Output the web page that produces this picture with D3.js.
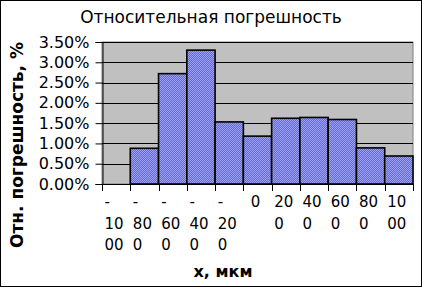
<!DOCTYPE html>
<html>
<head>
<meta charset="utf-8">
<script src="https://cdn.jsdelivr.net/npm/d3@7"></script>
<style>
  body { margin: 0; background: #fff; }
  svg { display: block; font-family: "DejaVu Sans", sans-serif; }
</style>
</head>
<body>
<svg id="chart" width="422" height="287"></svg>
<script>
// x positions (мкм) and relative error (fraction)
var categories = ["-1000", "-800", "-600", "-400", "-200", "0", "200", "400", "600", "800", "1000"];
var errors = [null, 0.0088, 0.0272, 0.0330, 0.0153, 0.0118, 0.0162, 0.0164, 0.0159, 0.0089, 0.0069];
var yTicks = [0, 0.005, 0.01, 0.015, 0.02, 0.025, 0.03, 0.035];

var svg = d3.select("#chart"),
    W = 422, H = 287,
    plot = {left: 102, right: 413, top: 42, bottom: 184};

svg.append("rect")
    .attr("x", 0.5).attr("y", 0.5)
    .attr("width", W - 1).attr("height", H - 1)
    .attr("fill", "#fff").attr("stroke", "#000");

// checkerboard blue fill like the excel pattern
var pat = svg.append("defs").append("pattern")
    .attr("id", "dots")
    .attr("width", 2).attr("height", 2)
    .attr("patternUnits", "userSpaceOnUse");
pat.append("rect").attr("width", 2).attr("height", 2).attr("fill", "#6464f2");
pat.append("rect").attr("width", 1).attr("height", 1).attr("fill", "#a0a0ff");
pat.append("rect").attr("x", 1).attr("y", 1).attr("width", 1).attr("height", 1).attr("fill", "#a0a0ff");

var x = d3.scaleBand()
    .domain(categories)
    .range([plot.left, plot.right])
    .padding(0);

var y = d3.scaleLinear()
    .domain([0, 0.035])
    .range([plot.bottom, plot.top]);

// plot background
svg.append("rect")
    .attr("x", plot.left).attr("y", plot.top)
    .attr("width", plot.right - plot.left)
    .attr("height", plot.bottom - plot.top)
    .attr("fill", "#c0c0c0")
    .attr("stroke", "#808080");

// gridlines
svg.append("g")
    .selectAll("line")
    .data(yTicks)
    .enter().append("line")
    .attr("x1", plot.left).attr("x2", plot.right)
    .attr("y1", function (d) { return Math.round(y(d)) + 0.5; })
    .attr("y2", function (d) { return Math.round(y(d)) + 0.5; })
    .attr("stroke", "#000");

// bars
svg.append("g")
    .selectAll("rect")
    .data(categories.map(function (c, i) { return {cat: c, v: errors[i]}; })
        .filter(function (d) { return d.v !== null; }))
    .enter().append("rect")
    .attr("x", function (d) { return x(d.cat); })
    .attr("y", function (d) { return y(d.v); })
    .attr("width", x.bandwidth())
    .attr("height", function (d) { return y(0) - y(d.v); })
    .attr("fill", "url(#dots)")
    .attr("stroke", "#000")
    .attr("stroke-width", 1.6);

// y axis
var yAxis = svg.append("g")
    .attr("transform", "translate(" + (plot.left + 0.5) + ",0)")
    .call(d3.axisLeft(y).tickValues(yTicks).tickFormat(d3.format(".2%")).tickSize(7).tickPadding(6));
yAxis.select(".domain").attr("stroke", "#000");
yAxis.selectAll("text").attr("font-size", 16).attr("font-family", "DejaVu Sans").attr("fill", "#000");

// x axis: ticks at the band edges
var edges = categories.map(function (c) { return x(c); }).concat([plot.right]);
svg.append("line")
    .attr("x1", plot.left).attr("x2", plot.right)
    .attr("y1", plot.bottom + 0.5).attr("y2", plot.bottom + 0.5)
    .attr("stroke", "#000");
svg.append("g")
    .selectAll("line")
    .data(edges)
    .enter().append("line")
    .attr("x1", function (d) { return Math.round(d) + 0.5; })
    .attr("x2", function (d) { return Math.round(d) + 0.5; })
    .attr("y1", plot.bottom).attr("y2", plot.bottom + 7)
    .attr("stroke", "#000");

// wrapped category labels, broken the way excel does it
var measure = svg.append("text").attr("font-size", 15);
function textWidth(s) {
    measure.text(s);
    return measure.node().getComputedTextLength();
}
function wrapLabel(s, maxW) {
    var parts = s.charAt(0) === "-" ? ["-", s.slice(1)] : [s];
    var lines = [];
    parts.forEach(function (p) {
        var cur = "";
        for (var i = 0; i < p.length; i++) {
            if (cur && textWidth(cur + p[i]) > maxW) {
                lines.push(cur);
                cur = "";
            }
            cur += p[i];
        }
        lines.push(cur);
    });
    return lines;
}

var labels = svg.append("g").attr("font-size", 15).attr("fill", "#000");
categories.forEach(function (c) {
    var lines = wrapLabel(c, 24);
    var wMax = d3.max(lines, textWidth);
    var x0 = x(c) + x.bandwidth() / 2 - wMax / 2 - 2;
    lines.forEach(function (ln, k) {
        labels.append("text")
            .attr("x", x0)
            .attr("y", 207 + k * 21.5)
            .text(ln);
    });
});
measure.remove();

// titles
svg.append("text")
    .attr("x", 211).attr("y", 23)
    .attr("text-anchor", "middle")
    .attr("font-size", 17)
    .text("Относительная погрешность");

svg.append("text")
    .attr("transform", "translate(23,145) rotate(-90)")
    .attr("text-anchor", "middle")
    .attr("font-size", 17)
    .attr("font-weight", "bold")
    .text("Отн. погрешность, %");

svg.append("text")
    .attr("x", 223).attr("y", 277)
    .attr("text-anchor", "middle")
    .attr("font-size", 16)
    .attr("font-weight", "bold")
    .text("x, мкм");
</script>
</body>
</html>
